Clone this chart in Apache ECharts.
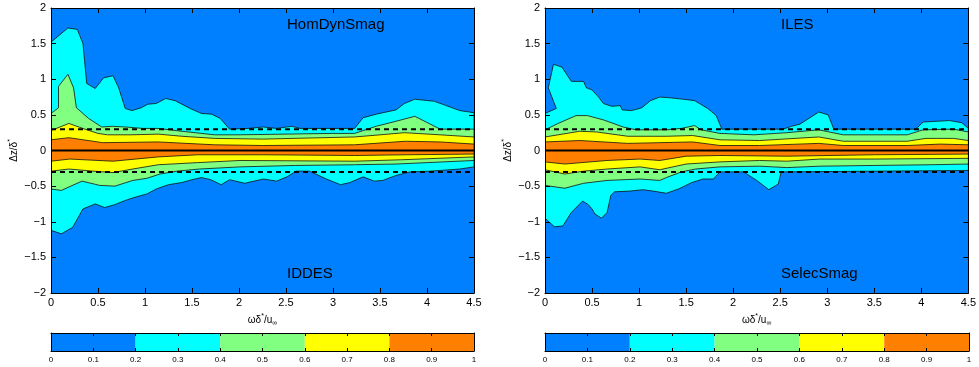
<!DOCTYPE html>
<html>
<head>
<meta charset="utf-8">
<script src="https://cdn.jsdelivr.net/npm/echarts@6/dist/echarts.min.js"></script>
<style>
  html, body { margin: 0; padding: 0; background: #ffffff; }
  #chart { width: 979px; height: 367px; }
</style>
</head>
<body>
<div id="chart"></div>
<script>
// Coherence contours vs. frequency and spanwise separation, two panels.
const FONT = '"Liberation Sans", Arial, Helvetica, sans-serif';

// Contour level fill colours (jet, 5 levels) and colour bar edges
const bgColor = '#0080FF';
const levelColors = ['#00FFFF', '#80FF80', '#FFFF00', '#FF8000'];
const barEdges = [0, 0.2, 0.4, 0.6, 0.8, 1.0];
const barColors = ['#0080FF', '#00FFFF', '#80FF80', '#FFFF00', '#FF8000'];

// Reference separation lines and centre line
const refLines = [0.3, -0.3];
const centreLine = [0];

// Panel labels
const leftTitles = ['HomDynSmag', 'IDDES'];
const rightTitles = ['ILES', 'SelecSmag'];

// ---- Left panel: boundaries [omega, dz] of each level, upper and lower ----
const L_c_up = [[0,1.52],[0.18,1.72],[0.28,1.70],[0.34,1.50],[0.38,0.94],[0.47,0.87],[0.56,1.02],[0.66,1.05],[0.72,0.88],[0.79,0.59],[0.86,0.56],[0.96,0.60],[1.03,0.65],[1.12,0.66],[1.22,0.73],[1.32,0.70],[1.48,0.59],[1.60,0.52],[1.71,0.51],[1.80,0.45],[1.90,0.30],[2.10,0.31],[2.26,0.33],[2.40,0.31],[2.56,0.34],[2.65,0.31],[3.00,0.31],[3.23,0.31],[3.32,0.46],[3.46,0.51],[3.67,0.57],[3.76,0.66],[3.87,0.72],[4.08,0.69],[4.35,0.56],[4.50,0.53]];
const L_c_lo = [[0,-1.12],[0.11,-1.17],[0.23,-1.08],[0.34,-0.82],[0.47,-0.75],[0.57,-0.80],[0.68,-0.76],[0.79,-0.70],[0.91,-0.65],[1.02,-0.61],[1.12,-0.54],[1.25,-0.48],[1.39,-0.45],[1.50,-0.41],[1.60,-0.38],[1.70,-0.41],[1.81,-0.48],[1.90,-0.41],[2.06,-0.46],[2.26,-0.40],[2.40,-0.43],[2.51,-0.37],[2.61,-0.29],[2.75,-0.29],[2.93,-0.40],[3.08,-0.48],[3.18,-0.45],[3.32,-0.37],[3.44,-0.43],[3.53,-0.42],[3.67,-0.35],[3.82,-0.30],[4.03,-0.29],[4.35,-0.26],[4.50,-0.23]];
const L_g_up = [[0,0.52],[0.08,0.60],[0.08,0.90],[0.18,1.07],[0.24,0.88],[0.27,0.60],[0.40,0.45],[0.54,0.33],[0.65,0.34],[0.79,0.33],[0.98,0.31],[1.14,0.31],[1.39,0.27],[1.74,0.22],[2.00,0.22],[2.50,0.23],[3.00,0.24],[3.23,0.24],[3.46,0.34],[3.67,0.41],[3.87,0.48],[4.14,0.30],[4.50,0.30]];
const L_g_lo = [[0,-0.54],[0.11,-0.56],[0.33,-0.43],[0.52,-0.49],[0.68,-0.50],[0.87,-0.42],[1.02,-0.39],[1.16,-0.33],[1.34,-0.29],[1.58,-0.26],[2.01,-0.23],[2.60,-0.21],[3.23,-0.20],[3.67,-0.19],[4.50,-0.14]];
const L_y_up = [[0,0.28],[0.19,0.38],[0.36,0.30],[0.50,0.24],[0.60,0.22],[0.85,0.22],[1.14,0.23],[1.39,0.20],[1.74,0.17],[2.25,0.16],[3.23,0.19],[3.50,0.22],[3.76,0.25],[4.14,0.22],[4.50,0.19]];
const L_y_lo = [[0,-0.29],[0.19,-0.26],[0.45,-0.29],[0.66,-0.31],[0.87,-0.26],[1.14,-0.20],[1.56,-0.17],[2.01,-0.14],[3.23,-0.15],[3.73,-0.13],[4.50,-0.09]];
const L_o_up = [[0,0.15],[0.19,0.18],[0.55,0.11],[1.14,0.12],[1.74,0.08],[2.25,0.07],[3.23,0.08],[3.77,0.13],[4.14,0.12],[4.50,0.09]];
const L_o_lo = [[0,-0.15],[0.20,-0.12],[0.66,-0.15],[1.14,-0.09],[1.56,-0.06],[2.25,-0.06],[3.23,-0.07],[3.78,-0.06],[4.50,-0.05]];

// ---- Right panel ----
const R_c_up = [[0,0.52],[0.12,0.59],[0.035,0.88],[0.09,1.21],[0.18,1.17],[0.28,0.97],[0.41,0.97],[0.44,0.88],[0.50,0.85],[0.57,0.75],[0.62,0.66],[0.71,0.62],[0.80,0.63],[0.82,0.57],[0.92,0.56],[1.03,0.60],[1.12,0.70],[1.22,0.75],[1.33,0.74],[1.47,0.72],[1.59,0.70],[1.73,0.59],[1.82,0.49],[1.88,0.30],[2.53,0.30],[2.62,0.34],[2.71,0.37],[2.91,0.54],[3.01,0.50],[3.07,0.30],[3.94,0.30],[4.02,0.40],[4.30,0.42],[4.43,0.39],[4.50,0.31]];
const R_c_lo = [[0,-0.95],[0.10,-1.07],[0.19,-1.06],[0.28,-0.87],[0.40,-0.71],[0.46,-0.76],[0.50,-0.82],[0.53,-0.89],[0.60,-0.95],[0.66,-0.87],[0.70,-0.63],[0.74,-0.58],[0.90,-0.57],[1.04,-0.55],[1.15,-0.57],[1.29,-0.60],[1.42,-0.54],[1.56,-0.45],[1.68,-0.40],[1.79,-0.40],[1.86,-0.30],[2.11,-0.30],[2.25,-0.42],[2.38,-0.55],[2.48,-0.47],[2.51,-0.30],[4.50,-0.28]];
const R_g_up = [[0,0.29],[0.14,0.38],[0.33,0.49],[0.45,0.49],[0.62,0.43],[0.83,0.33],[0.97,0.29],[1.29,0.29],[1.45,0.31],[1.59,0.35],[1.66,0.29],[1.86,0.24],[2.22,0.22],[2.57,0.25],[2.91,0.29],[3.17,0.22],[3.85,0.22],[4.02,0.29],[4.34,0.30],[4.50,0.26]];
const R_g_lo = [[0,-0.49],[0.21,-0.53],[0.41,-0.46],[0.66,-0.42],[1.01,-0.40],[1.22,-0.42],[1.29,-0.38],[1.45,-0.30],[1.60,-0.26],[1.86,-0.23],[2.28,-0.22],[2.57,-0.24],[2.92,-0.22],[3.50,-0.21],[4.10,-0.20],[4.50,-0.19]];
const R_y_up = [[0,0.19],[0.37,0.27],[0.55,0.26],[0.88,0.20],[1.29,0.20],[1.57,0.21],[1.86,0.15],[2.28,0.14],[2.91,0.19],[3.17,0.13],[3.85,0.13],[4.05,0.17],[4.34,0.17],[4.50,0.14]];
const R_y_lo = [[0,-0.27],[0.21,-0.33],[0.41,-0.29],[0.66,-0.26],[1.01,-0.23],[1.22,-0.27],[1.50,-0.19],[1.86,-0.16],[2.28,-0.14],[2.57,-0.15],[2.92,-0.12],[3.50,-0.12],[4.50,-0.11]];
const R_o_up = [[0,0.12],[0.37,0.14],[0.88,0.10],[1.57,0.12],[1.86,0.07],[2.28,0.07],[2.91,0.10],[3.17,0.07],[3.85,0.07],[4.20,0.09],[4.50,0.08]];
const R_o_lo = [[0,-0.16],[0.21,-0.19],[0.66,-0.14],[1.01,-0.12],[1.22,-0.14],[1.50,-0.08],[1.86,-0.07],[2.57,-0.08],[3.50,-0.06],[4.50,-0.05]];

const leftBands = [[L_c_up, L_c_lo], [L_g_up, L_g_lo], [L_y_up, L_y_lo], [L_o_up, L_o_lo]];
const rightBands = [[R_c_up, R_c_lo], [R_g_up, R_g_lo], [R_y_up, R_y_lo], [R_o_up, R_o_lo]];

const minus = v => String(v).replace('-', '\u2212');

const plotGrids = [
  { left: 51, top: 8, width: 423, height: 285 },
  { left: 545, top: 8, width: 424, height: 285 }
];
const barGrids = [
  { left: 51, top: 333, width: 423, height: 18 },
  { left: 545, top: 333, width: 424, height: 18 }
];

const tick = (len) => ({ show: true, inside: true, length: len, lineStyle: { color: '#000', width: 1 } });
const line = { show: true, onZero: false, lineStyle: { color: '#000', width: 1 } };

const xAxes = [], yAxes = [], series = [];

plotGrids.forEach((g, gi) => {
  const base = xAxes.length;
  xAxes.push({
    gridIndex: gi, type: 'value', min: 0, max: 4.5, interval: 0.5, position: 'bottom', z: 10,
    axisLine: line, axisTick: tick(5), splitLine: { show: false },
    axisLabel: { color: '#000', fontSize: 11, fontFamily: FONT, margin: 4, formatter: minus },
    name: '{t|ωδ}{s|*}{t|/u}{b|∞}', nameLocation: 'middle', nameGap: 10,
    nameTextStyle: { color: '#000', fontFamily: FONT, fontSize: 10,
      rich: { t: { fontSize: 10, fontFamily: FONT, color: '#000' },
              s: { fontSize: 7, fontFamily: FONT, color: '#000', padding: [0, 0, 7, 0] },
              b: { fontSize: 7, fontFamily: FONT, color: '#000', padding: [7, 0, 0, 0] } } }
  });
  xAxes.push({
    gridIndex: gi, type: 'value', min: 0, max: 4.5, interval: 0.5, position: 'top', z: 10,
    axisLine: line, axisTick: tick(5), axisLabel: { show: false }, splitLine: { show: false }
  });
  yAxes.push({
    gridIndex: gi, type: 'value', min: -2, max: 2, interval: 0.5, position: 'left', z: 10,
    axisLine: line, axisTick: tick(5), splitLine: { show: false },
    axisLabel: { color: '#000', fontSize: 11, fontFamily: FONT, margin: 5, formatter: minus },
    name: 'Δz/δ{s|*}', nameLocation: 'middle', nameGap: 30, nameRotate: 90,
    nameTextStyle: { color: '#000', fontFamily: FONT, fontSize: 10,
      rich: { s: { fontSize: 7, fontFamily: FONT, color: '#000', padding: [0, 0, 7, 0] } } }
  });
  yAxes.push({
    gridIndex: gi, type: 'value', min: -2, max: 2, interval: 0.5, position: 'right', z: 10,
    axisLine: line, axisTick: tick(5), axisLabel: { show: false }, splitLine: { show: false }
  });

  const bands = gi === 0 ? leftBands : rightBands;
  // Background level (0 - 0.2) fills the whole plotting area
  series.push({
    type: 'custom', xAxisIndex: base, yAxisIndex: base, silent: true, z: 1,
    data: [[0, -2]],
    renderItem: (params, api) => {
      const a = api.coord([0, 2]);
      const b = api.coord([4.5, -2]);
      return { type: 'rect', shape: { x: a[0], y: a[1], width: b[0] - a[0], height: b[1] - a[1] },
               style: { fill: bgColor } };
    }
  });
  bands.forEach((band, li) => {
    const up = band[0], lo = band[1];
    series.push({
      type: 'custom', xAxisIndex: base, yAxisIndex: base, silent: true, clip: true, z: 2 + li * 0.01,
      data: [[0, 0]],
      renderItem: (params, api) => {
        const pts = up.concat(lo.slice().reverse()).map(p => api.coord(p));
        return { type: 'polygon', shape: { points: pts },
                 style: { fill: levelColors[li], stroke: '#111', lineWidth: 0.8 } };
      }
    });
  });
  refLines.forEach(v => {
    series.push({
      type: 'line', xAxisIndex: base, yAxisIndex: base, silent: true, symbol: 'none', z: 5,
      data: [[0, v], [4.5, v]],
      lineStyle: { color: '#000', width: 2, type: [5, 4] }
    });
  });
  centreLine.forEach(v => {
    series.push({
      type: 'line', xAxisIndex: base, yAxisIndex: base, silent: true, symbol: 'none', z: 5,
      data: [[0, v], [4.5, v]],
      lineStyle: { color: '#000', width: 2 }
    });
  });
});

barGrids.forEach((g, bi) => {
  const gi = bi + 2;
  const base = xAxes.length;
  xAxes.push({
    gridIndex: gi, type: 'value', min: 0, max: 1, interval: 0.1, position: 'bottom', z: 10,
    axisLine: line, axisTick: tick(3), splitLine: { show: false },
    axisLabel: { color: '#000', fontSize: 8, fontFamily: FONT, margin: 5 }
  });
  xAxes.push({
    gridIndex: gi, type: 'value', min: 0, max: 1, interval: 0.1, position: 'top', z: 10,
    axisLine: line, axisTick: tick(3), axisLabel: { show: false }, splitLine: { show: false }
  });
  yAxes.push({
    gridIndex: gi, type: 'value', min: 0, max: 1, position: 'left', z: 10,
    axisLine: line, axisTick: { show: false }, axisLabel: { show: false }, splitLine: { show: false }
  });
  yAxes.push({
    gridIndex: gi, type: 'value', min: 0, max: 1, position: 'right', z: 10,
    axisLine: line, axisTick: { show: false }, axisLabel: { show: false }, splitLine: { show: false }
  });
  series.push({
    type: 'custom', xAxisIndex: base, yAxisIndex: base, silent: true, z: 2,
    data: barColors.map((c, i) => [barEdges[i], barEdges[i + 1]]),
    renderItem: (params, api) => {
      const a = api.coord([api.value(0), 1]);
      const b = api.coord([api.value(1), 0]);
      return { type: 'rect', shape: { x: a[0], y: a[1], width: b[0] - a[0], height: b[1] - a[1] },
               style: { fill: barColors[params.dataIndex] } };
    }
  });
});

const titleText = (txt, left, top) => ({
  type: 'text', left: left, top: top, z: 20,
  style: { text: txt, fontSize: 15, fontFamily: FONT, fill: '#000' }
});

const chart = echarts.init(document.getElementById('chart'), null, { renderer: 'canvas' });
chart.setOption({
  animation: false,
  backgroundColor: '#ffffff',
  grid: plotGrids.concat(barGrids).map(g => Object.assign({ containLabel: false, show: false }, g)),
  xAxis: xAxes,
  yAxis: yAxes,
  series: series,
  graphic: [
    titleText(leftTitles[0], 287, 17),
    titleText(leftTitles[1], 287, 266),
    titleText(rightTitles[0], 781, 17),
    titleText(rightTitles[1], 781, 266)
  ]
});
</script>
</body>
</html>
